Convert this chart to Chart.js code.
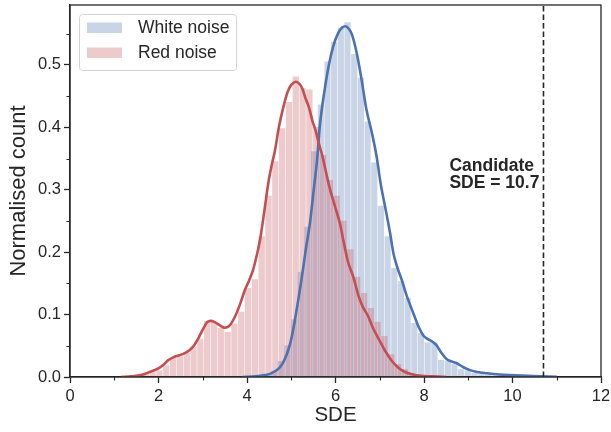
<!DOCTYPE html>
<html>
<head>
<meta charset="utf-8">
<script src="https://cdn.jsdelivr.net/npm/chart.js@4/dist/chart.umd.min.js"></script>
<style>
  html, body { margin: 0; padding: 0; background: #ffffff; }
  #wrap { width: 611px; height: 432px; }
</style>
</head>
<body>
<div id="wrap"><canvas id="c" width="611" height="432"></canvas></div>
<script>
// Histogram of SDE values for the white-noise trials (bin centres, normalised counts)
const whiteBinWidth = 0.151;
const whiteBinCentres = [4.371, 4.522, 4.673, 4.824, 4.975, 5.126, 5.277, 5.428, 5.579, 5.730,
  5.881, 6.032, 6.183, 6.334, 6.485, 6.636, 6.787, 6.938, 7.089, 7.240,
  7.391, 7.542, 7.693, 7.844, 7.995, 8.146, 8.297, 8.448, 8.599, 8.750,
  8.901, 9.052, 9.203, 9.354, 9.505, 9.656, 9.807, 9.958, 10.109, 10.260];
const whiteCounts = [0.001, 0.003, 0.010, 0.025, 0.050, 0.092, 0.168, 0.240, 0.361, 0.436,
  0.505, 0.536, 0.559, 0.568, 0.517, 0.479, 0.409, 0.343, 0.274, 0.225,
  0.174, 0.153, 0.126, 0.086, 0.070, 0.055, 0.055, 0.027, 0.025, 0.020,
  0.012, 0.010, 0.006, 0.004, 0.003, 0.002, 0.002, 0.001, 0.001, 0.0005];

// Histogram of SDE values for the red-noise trials
const redBinWidth = 0.154;
const redBinCentres = [1.343, 1.497, 1.651, 1.805, 1.959, 2.113, 2.267, 2.421, 2.575, 2.729,
  2.883, 3.037, 3.191, 3.345, 3.499, 3.653, 3.807, 3.961, 4.115, 4.269,
  4.423, 4.577, 4.731, 4.885, 5.039, 5.193, 5.347, 5.501, 5.655, 5.809,
  5.963, 6.117, 6.271, 6.425, 6.579, 6.733, 6.887, 7.041, 7.195, 7.349,
  7.503, 7.657, 7.811, 7.965, 8.119, 8.273, 8.427, 8.581];
const redCounts = [0.002, 0.002, 0.004, 0.007, 0.010, 0.018, 0.030, 0.033, 0.038, 0.048,
  0.060, 0.089, 0.088, 0.078, 0.072, 0.085, 0.104, 0.142, 0.156, 0.225,
  0.290, 0.345, 0.398, 0.440, 0.481, 0.462, 0.460, 0.400, 0.355, 0.315,
  0.290, 0.250, 0.204, 0.160, 0.134, 0.110, 0.088, 0.065, 0.036, 0.020,
  0.012, 0.006, 0.004, 0.002, 0.001, 0.001, 0.0005, 0.0005];

// Kernel density estimates
const whiteKdeX = [3.9, 4.2, 4.4, 4.52, 4.65, 4.75, 4.85, 4.97, 5.05, 5.15, 5.24, 5.33, 5.42, 5.5,
  5.58, 5.65, 5.75, 5.85, 5.95, 6.06, 6.15, 6.23, 6.3, 6.37, 6.48, 6.59, 6.7, 6.82,
  6.93, 7.02, 7.12, 7.23, 7.31, 7.4, 7.5, 7.61, 7.7, 7.78, 7.88, 7.98, 8.08, 8.18,
  8.28, 8.38, 8.51, 8.62, 8.74, 8.88, 9.04, 9.2, 9.42, 9.7, 9.94, 10.47, 11.0];
const whiteKdeY = [0.0, 0.001, 0.003, 0.005, 0.010, 0.016, 0.028, 0.052, 0.078, 0.120, 0.160, 0.205, 0.245, 0.295,
  0.345, 0.405, 0.458, 0.500, 0.530, 0.551, 0.560, 0.562, 0.558, 0.549, 0.519, 0.476, 0.428, 0.392,
  0.353, 0.310, 0.273, 0.232, 0.198, 0.175, 0.155, 0.130, 0.113, 0.098, 0.080, 0.067, 0.061, 0.057,
  0.051, 0.040, 0.029, 0.025, 0.022, 0.016, 0.011, 0.008, 0.006, 0.004, 0.003, 0.0015, 0.0005];
const redKdeX = [1.15, 1.4, 1.6, 1.8, 2.0, 2.12, 2.22, 2.35, 2.56, 2.7, 2.8, 2.9, 3.0, 3.1, 3.18,
  3.27, 3.38, 3.5, 3.6, 3.73, 3.85, 3.95, 4.05, 4.14, 4.22, 4.3, 4.4, 4.48, 4.56, 4.63,
  4.72, 4.82, 4.92, 5.0, 5.1, 5.18, 5.25, 5.33, 5.4, 5.48, 5.55, 5.62, 5.7, 5.78, 5.86,
  5.99, 6.1, 6.18, 6.28, 6.4, 6.52, 6.62, 6.74, 6.85, 7.0, 7.12, 7.27, 7.42, 7.57, 7.75,
  7.91, 8.2, 8.5];
const redKdeY = [0.0, 0.001, 0.003, 0.008, 0.014, 0.020, 0.027, 0.032, 0.037, 0.043, 0.050, 0.062, 0.076, 0.088, 0.090,
  0.088, 0.083, 0.079, 0.082, 0.097, 0.118, 0.139, 0.155, 0.172, 0.195, 0.222, 0.270, 0.310, 0.340, 0.362,
  0.400, 0.432, 0.457, 0.468, 0.473, 0.470, 0.462, 0.445, 0.432, 0.410, 0.395, 0.375, 0.355, 0.330, 0.305,
  0.273, 0.246, 0.218, 0.185, 0.161, 0.130, 0.112, 0.097, 0.078, 0.058, 0.042, 0.026, 0.015, 0.008, 0.004,
  0.002, 0.001, 0.0];

const seriesLabels = ['White noise', 'Red noise'];
const xTickValues = [0, 2, 4, 6, 8, 10, 12];
const xMinorTicks = [1, 3, 5, 7, 9, 11];
const yTickValues = [0.0, 0.1, 0.2, 0.3, 0.4, 0.5];
const yMinorTicks = [0.05, 0.15, 0.25, 0.35, 0.45, 0.55];
const candidateSDE = 10.7;
const candidateLines = ['Candidate', 'SDE = ' + candidateSDE];

const BLUE = '#4C72B0';
const RED = '#C44E52';
const BLUE_FILL = 'rgba(76,114,176,0.3)';
const RED_FILL = 'rgba(196,78,82,0.3)';
const INK = '#262626';
const FONT = "'Liberation Sans', Arial, Helvetica, sans-serif";

Chart.defaults.font.family = FONT;
Chart.defaults.color = INK;

const toPoints = (xs, ys) => xs.map((x, i) => ({ x: x, y: ys[i] }));

// Size each histogram bar to its bin width on the x scale, leaving a thin white gap
const binSizing = {
  id: 'binSizing',
  afterLayout(chart) {
    const xs = chart.scales.x;
    const perUnit = Math.abs(xs.getPixelForValue(1) - xs.getPixelForValue(0));
    chart.data.datasets.forEach(ds => {
      if (ds.binWidth) ds.barThickness = Math.max(1, ds.binWidth * perUnit - 1.2);
    });
  }
};

// Frame, minor ticks, candidate marker and legend box
const decorations = {
  id: 'decorations',
  afterDatasetsDraw(chart) {
    const { ctx, chartArea: a, scales } = chart;
    const xs = scales.x, ys = scales.y;
    ctx.save();
    const cx = xs.getPixelForValue(candidateSDE);
    ctx.strokeStyle = INK;
    ctx.lineWidth = 1.6;
    ctx.setLineDash([5.5, 3]);
    ctx.beginPath();
    ctx.moveTo(cx, a.bottom);
    ctx.lineTo(cx, a.top);
    ctx.stroke();
    ctx.setLineDash([]);
    ctx.fillStyle = INK;
    ctx.font = "bold 17.5px " + FONT;
    ctx.textAlign = 'left';
    ctx.textBaseline = 'middle';
    const tx = xs.getPixelForValue(8.575);
    ctx.fillText(candidateLines[0], tx, ys.getPixelForValue(0.338));
    ctx.fillText(candidateLines[1], tx, ys.getPixelForValue(0.3104));
    ctx.restore();
  },
  afterDraw(chart) {
    const { ctx, chartArea: a, scales } = chart;
    const xs = scales.x, ys = scales.y;
    ctx.save();
    ctx.strokeStyle = INK;
    ctx.lineWidth = 1.3;
    ctx.strokeRect(a.left, a.top, a.right - a.left, a.bottom - a.top);
    ctx.lineWidth = 1.1;
    ctx.beginPath();
    xMinorTicks.forEach(v => {
      const p = Math.round(xs.getPixelForValue(v)) + 0.5;
      ctx.moveTo(p, a.bottom);
      ctx.lineTo(p, a.bottom + 3.5);
    });
    yMinorTicks.forEach(v => {
      const p = Math.round(ys.getPixelForValue(v)) + 0.5;
      ctx.moveTo(a.left, p);
      ctx.lineTo(a.left - 3.5, p);
    });
    ctx.stroke();

    const lx = a.left + 9.5, ly = a.top + 9.5, lw = 157, lh = 56;
    ctx.fillStyle = 'rgba(255,255,255,0.85)';
    ctx.strokeStyle = '#d4d4d4';
    ctx.lineWidth = 1;
    ctx.beginPath();
    ctx.roundRect(lx, ly, lw, lh, 3);
    ctx.fill();
    ctx.stroke();
    const fills = [BLUE_FILL, RED_FILL];
    ctx.font = "17.5px " + FONT;
    ctx.textAlign = 'left';
    ctx.textBaseline = 'middle';
    seriesLabels.forEach((lab, i) => {
      const rowY = ly + 13.5 + i * 25;
      ctx.fillStyle = fills[i];
      ctx.fillRect(lx + 7.5, rowY - 5.5, 35, 10.5);
      ctx.fillStyle = INK;
      ctx.fillText(lab, lx + 58.5, rowY + 0.5);
    });
    ctx.restore();
  }
};

new Chart(document.getElementById('c'), {
  type: 'bar',
  data: {
    datasets: [
      {
        type: 'bar', label: seriesLabels[0], xAxisID: 'x', order: 4, stack: 'hist',
        binWidth: whiteBinWidth,
        data: toPoints(whiteBinCentres, whiteCounts),
        backgroundColor: BLUE_FILL, borderWidth: 0,
        barPercentage: 1.0, categoryPercentage: 1.0
      },
      {
        type: 'line', label: seriesLabels[0] + ' KDE', xAxisID: 'x', order: 2,
        data: toPoints(whiteKdeX, whiteKdeY),
        borderColor: BLUE, borderWidth: 2.6, pointRadius: 0,
        cubicInterpolationMode: 'monotone', fill: false
      },
      {
        type: 'bar', label: seriesLabels[1], xAxisID: 'xr', order: 3, stack: 'hist',
        binWidth: redBinWidth,
        data: toPoints(redBinCentres, redCounts),
        backgroundColor: RED_FILL, borderWidth: 0,
        barPercentage: 1.0, categoryPercentage: 1.0
      },
      {
        type: 'line', label: seriesLabels[1] + ' KDE', xAxisID: 'x', order: 1,
        data: toPoints(redKdeX, redKdeY),
        borderColor: RED, borderWidth: 2.6, pointRadius: 0,
        cubicInterpolationMode: 'monotone', fill: false
      }
    ]
  },
  options: {
    responsive: false,
    devicePixelRatio: 1,
    animation: false,
    layout: { padding: { top: 5, right: 10, left: 0, bottom: 0 } },
    plugins: { legend: { display: false }, tooltip: { enabled: false } },
    scales: {
      x: {
        type: 'linear', position: 'bottom', min: 0, max: 12, offset: false,
        afterFit(s) { s.height = 55; s.paddingLeft = 0; s.paddingRight = 0; },
        afterBuildTicks(s) { s.ticks = xTickValues.map(v => ({ value: v })); },
        ticks: { font: { size: 16.5 }, color: INK, padding: 4, maxRotation: 0,
                 callback: v => String(v) },
        grid: { display: true, drawOnChartArea: false, drawTicks: true, tickLength: 6,
                tickColor: INK, tickWidth: 1.3, offset: false },
        border: { display: true, color: INK, width: 1.3 },
        title: { display: true, text: 'SDE', font: { size: 20.5, lineHeight: 1 }, color: INK,
                 padding: { top: 0, bottom: 6 } }
      },
      xr: {
        type: 'linear', position: 'bottom', min: 0, max: 12, offset: false, display: false,
        afterFit(s) { s.paddingLeft = 0; s.paddingRight = 0; }
      },
      y: {
        type: 'linear', min: 0, max: 0.596, stacked: false,
        afterFit(s) { s.width = 70; s.paddingTop = 0; s.paddingBottom = 0; },
        afterBuildTicks(s) { s.ticks = yTickValues.map(v => ({ value: v })); },
        ticks: { font: { size: 16.5 }, color: INK, padding: 3,
                 callback: v => Number(v).toFixed(1) },
        grid: { display: true, drawOnChartArea: false, drawTicks: true, tickLength: 6,
                tickColor: INK, tickWidth: 1.3 },
        border: { display: true, color: INK, width: 1.3 },
        title: { display: true, text: 'Normalised count', font: { size: 22, lineHeight: 1 }, color: INK,
                 padding: { top: 8, bottom: 0 } }
      }
    }
  },
  plugins: [binSizing, decorations]
});
</script>
</body>
</html>
